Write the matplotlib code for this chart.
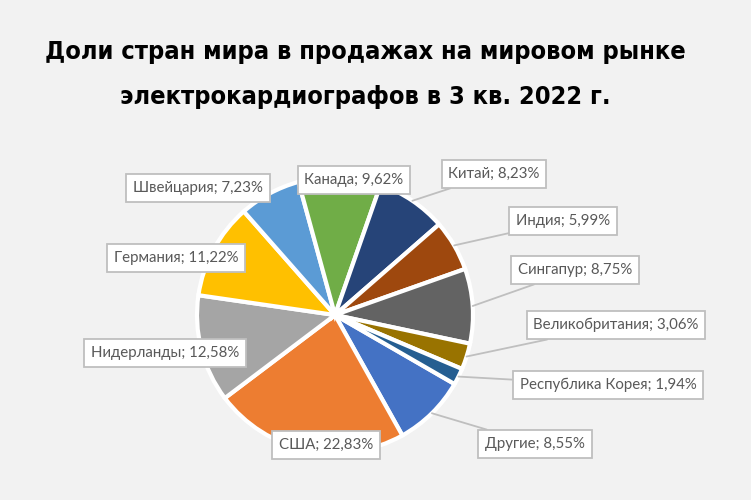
import numpy as np
import matplotlib
matplotlib.use('Agg')
import matplotlib.pyplot as plt
from matplotlib import font_manager

# data, in the order the slices are drawn (clockwise)
countries = ['Другие', 'США', 'Нидерланды', 'Германия', 'Швейцария', 'Канада',
             'Китай', 'Индия', 'Сингапур', 'Великобритания', 'Республика Корея']
shares = [8.55, 22.83, 12.58, 11.22, 7.23, 9.62, 8.23, 5.99, 8.75, 3.06, 1.94]
colors = ['#4472C4', '#ED7D31', '#A5A5A5', '#FFC000', '#5B9BD5', '#70AD47',
          '#264478', '#9E480E', '#636363', '#997300', '#255E91']

title = 'Доли стран мира в продажах на мировом рынке\nэлектрокардиографов в 3 кв. 2022 г.'

# label box centres in pixels (from top-left) and whether a leader line is drawn
label_pos = {
    'Другие': (535, 444, True),
    'США': (326, 445, False),
    'Нидерланды': (165, 353, False),
    'Германия': (176, 258, False),
    'Швейцария': (198, 188, False),
    'Канада': (354, 180, False),
    'Китай': (494, 174, True),
    'Индия': (563, 221, True),
    'Сингапур': (575, 270, True),
    'Великобритания': (616, 325, True),
    'Республика Корея': (608, 385, True),
}

W, H = 751, 500
bg = '#F2F2F2'
fig = plt.figure(figsize=(W / 100, H / 100), dpi=100, facecolor=bg)
ax = fig.add_axes([0, 0, 1, 1])
ax.set_facecolor(bg)

cx, cy, r = 335, H - 315, 138
wedges, _ = ax.pie(shares, colors=colors, center=(cx, cy), radius=r,
                   startangle=-30, counterclock=False,
                   wedgeprops=dict(edgecolor='white', linewidth=3))

ax.set_xlim(0, W)
ax.set_ylim(0, H)
ax.set_aspect('auto')
ax.axis('off')

for w, name, val in zip(wedges, countries, shares):
    x, y, leader = label_pos[name]
    txt = f'{name}; {val:.2f}%'.replace('.', ',')
    mid = np.deg2rad((w.theta1 + w.theta2) / 2)
    edge = (cx + r * np.cos(mid), cy + r * np.sin(mid))
    box = dict(boxstyle='square,pad=0.45', fc='white', ec='#BFBFBF', lw=1.3)
    if leader:
        ax.annotate(txt, xy=edge, xytext=(x, H - y), ha='center', va='center',
                    fontsize=10.8, color='#595959', family='Lato', bbox=box,
                    arrowprops=dict(arrowstyle='-', color='#BFBFBF', lw=1.3,
                                    shrinkA=0, shrinkB=0))
    else:
        ax.text(x, H - y, txt, ha='center', va='center', fontsize=10.8,
                color='#595959', family='Lato', bbox=box)

# title: narrow font if one is there, sized so the first line spans ~643 px
fp = font_manager.FontProperties(family='DejaVu Sans', stretch='condensed', weight='bold')
if 'Condensed' not in font_manager.findfont(fp):
    fp = font_manager.FontProperties(family='Roboto', weight='medium')

lines = title.split('\n')
renderer = fig.canvas.get_renderer()
t1 = fig.text(0.487, 0.895, lines[0], ha='center', va='center', fontproperties=fp,
              fontsize=26, color='black')
w1 = t1.get_window_extent(renderer).width
size = 26 * 643 / w1
t1.set_fontsize(size)
fig.text(0.486, 0.806, lines[1], ha='center', va='center', fontproperties=fp,
         fontsize=size, color='black')

plt.savefig('out.png', dpi=100, facecolor=bg)
